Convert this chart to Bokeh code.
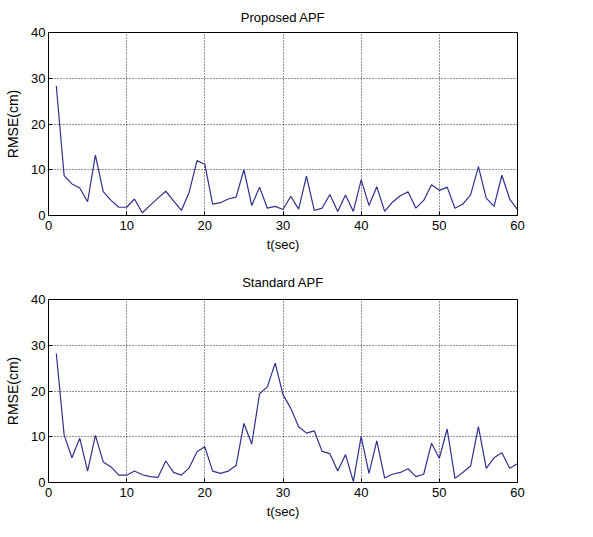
from bokeh.plotting import figure
from bokeh.layouts import column
from bokeh.models import FixedTicker, Range1d
from bokeh.embed import file_html
from bokeh.resources import INLINE

t = list(range(1, 61))

proposed = [28.3, 8.7, 6.9, 6.0, 3.0, 13.2, 5.2, 3.3, 1.8, 1.8,
            3.6, 0.6, 2.2, 3.8, 5.3, 3.2, 1.1, 5.1, 12.0, 11.2,
            2.5, 2.8, 3.6, 4.0, 10.0, 2.2, 6.2, 1.6, 2.0, 1.3,
            4.2, 1.4, 8.6, 1.1, 1.6, 4.6, 0.9, 4.5, 0.9, 7.8,
            2.2, 6.3, 0.9, 2.9, 4.3, 5.2, 1.6, 3.3, 6.7, 5.5,
            6.2, 1.6, 2.5, 4.5, 10.7, 3.8, 2.0, 8.8, 3.6, 1.3]

standard = [28.2, 10.4, 5.4, 9.7, 2.5, 10.3, 4.5, 3.4, 1.6, 1.6,
            2.5, 1.7, 1.3, 1.1, 4.7, 2.2, 1.6, 3.2, 6.7, 7.8,
            2.5, 2.0, 2.5, 3.7, 12.9, 8.4, 19.4, 20.9, 26.1, 19.2,
            16.2, 12.2, 10.8, 11.3, 6.8, 6.3, 2.5, 6.1, 0.2, 10.1,
            2.0, 9.1, 1.0, 1.8, 2.2, 3.0, 1.3, 1.8, 8.6, 5.3,
            11.7, 0.9, 2.2, 3.6, 12.2, 3.1, 5.4, 6.5, 3.1, 4.1]

x_ticks = [0, 10, 20, 30, 40, 50, 60]
y_ticks = [0, 10, 20, 30, 40]
titles = ["Proposed APF", "Standard APF"]
x_label = "t(sec)"
y_label = "RMSE(cm)"

FONT = "Liberation Sans"
LINE = "#30308e"


def style_axis(ax, ticks):
    ax.ticker = FixedTicker(ticks=ticks)
    ax.major_tick_in = 4
    ax.major_tick_out = 0
    ax.minor_tick_in = 0
    ax.minor_tick_out = 0
    ax.axis_line_color = "black"
    ax.major_tick_line_color = "black"
    ax.major_label_text_font = FONT
    ax.major_label_text_font_size = "13px"
    ax.major_label_text_color = "black"
    ax.axis_label_text_font = FONT
    ax.axis_label_text_font_size = "13px"
    ax.axis_label_text_font_style = "normal"
    ax.axis_label_text_color = "black"


def make(title, values, height, btop, bbottom, title_standoff):
    p = figure(width=572, height=height,
               x_range=Range1d(0, 60), y_range=Range1d(0, 40),
               output_backend="svg", toolbar_location=None,
               min_border_left=48, min_border_right=55,
               min_border_top=btop, min_border_bottom=bbottom,
               title=title)
    p.background_fill_color = "white"
    p.border_fill_color = "white"
    p.outline_line_color = "black"
    p.outline_line_width = 1
    p.title.align = "center"
    p.title.text_font = FONT
    p.title.text_font_size = "13px"
    p.title.text_font_style = "normal"
    p.title.text_color = "black"
    p.title.standoff = title_standoff

    p.line(t, values, line_color=LINE, line_width=1.2)

    xa = p.xaxis[0]
    style_axis(xa, x_ticks)
    xa.axis_label = x_label
    xa.major_label_standoff = 5
    xa.axis_label_standoff = 4

    ya = p.yaxis[0]
    style_axis(ya, y_ticks)
    ya.axis_label = y_label
    ya.axis_label_text_font_size = "14px"
    ya.major_label_standoff = 3
    ya.axis_label_standoff = 7

    p.xgrid.ticker = FixedTicker(ticks=x_ticks)
    p.ygrid.ticker = FixedTicker(ticks=y_ticks)
    for g in (p.xgrid[0], p.ygrid[0]):
        g.grid_line_color = "black"
        g.grid_line_dash = "1 2"
        g.grid_line_width = 1
        g.grid_line_alpha = 0.85
    return p


p1 = make(titles[0], proposed, 262, 31, 47, 15)
p2 = make(titles[1], standard, 265, 37, 45, 20)

layout = column(p1, p2, spacing=0)

open("out.html", "w").write(file_html(layout, INLINE))
